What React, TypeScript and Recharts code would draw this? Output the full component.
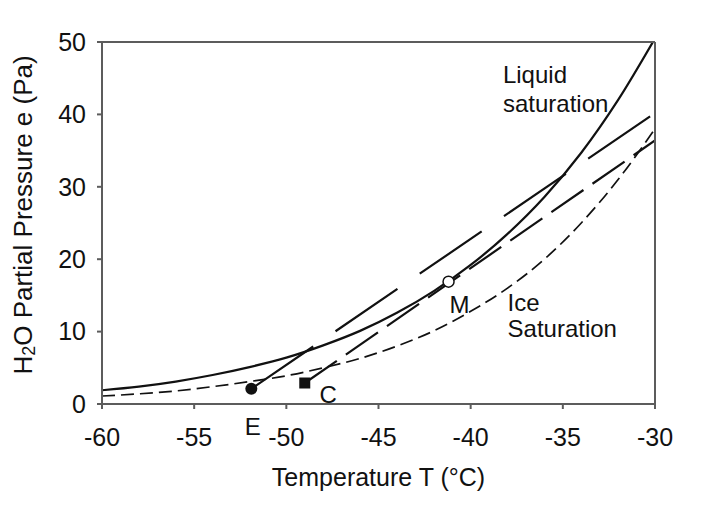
import React from 'react';
import {
  ComposedChart,
  Line,
  Scatter,
  XAxis,
  YAxis,
  ReferenceDot,
  Label,
} from 'recharts';

// temperature grid (°C) and saturation vapour pressures (Pa)
const temps = [-60, -58, -56, -54, -52, -50, -48, -46, -44, -42, -40, -38, -36, -34, -32, -30];
const liquidSat = [1.9, 2.4, 3.1, 4.0, 5.1, 6.4, 8.1, 10.1, 12.6, 15.6, 19.2, 23.5, 28.6, 34.7, 42.0, 50.5];
const iceSat = [1.1, 1.4, 1.8, 2.4, 3.1, 3.9, 5.0, 6.3, 8.0, 10.1, 12.8, 16.0, 20.0, 25.0, 31.0, 38.0];

// mixing lines, from the exhaust point to -30 °C
const mixingE = [
  { t: -51.9, e: 2.1 },
  { t: -30, e: 40.2 },
];
const mixingC = [
  { t: -49.0, e: 2.9 },
  { t: -30, e: 36.4 },
];

// marked states
const pointE = [{ t: -51.9, e: 2.1 }];
const pointC = [{ t: -49.0, e: 2.9 }];
const pointM = [{ t: -41.2, e: 16.9 }];

const xTicks = [-60, -55, -50, -45, -40, -35, -30];
const yTicks = [0, 10, 20, 30, 40, 50];

// text labels anchored in data space (left edge, baseline)
const annotations = [
  { text: 'Liquid', t: -38.25, e: 44.3 },
  { text: 'saturation', t: -38.25, e: 40.4 },
  { text: 'Ice', t: -38.0, e: 12.8 },
  { text: 'Saturation', t: -38.0, e: 9.2 },
  { text: 'M', t: -41.15, e: 12.6 },
  { text: 'C', t: -48.2, e: 0.1 },
  { text: 'E', t: -52.25, e: -4.3 },
];

const liquidData = temps.map((t, i) => ({ t, e: liquidSat[i] }));
const iceData = temps.map((t, i) => ({ t, e: iceSat[i] }));

const FONT = '"Liberation Sans", Arial, Helvetica, sans-serif';
const AXIS = '#5c5c5c';
const INK = '#111';

const tickStyle = { fontSize: 25, fill: INK, fontFamily: FONT };

function YTitle(props: any) {
  const vb = props.viewBox || { x: 34, y: 34, width: 60, height: 362 };
  const cx = 15;
  const cy = vb.y + vb.height / 2 - 8;
  return (
    <text
      x={cx}
      y={cy}
      transform={`rotate(-90, ${cx}, ${cy})`}
      textAnchor="middle"
      dominantBaseline="central"
      fontSize={26}
      fontFamily={FONT}
      fill={INK}
    >
      <tspan>H</tspan>
      <tspan fontSize={18} dy={6}>2</tspan>
      <tspan dy={-6}>O Partial Pressure e (Pa)</tspan>
    </text>
  );
}

const dotE = (p: any) => <circle cx={p.cx} cy={p.cy} r={6} fill={INK} />;
const dotC = (p: any) => <rect x={p.cx - 5.5} y={p.cy - 5.5} width={11} height={11} fill={INK} />;
const dotM = (p: any) => (
  <circle cx={p.cx} cy={p.cy} r={5.5} fill="#fff" stroke={INK} strokeWidth={1.5} />
);

export default function App() {
  return (
    <div style={{ width: 702, height: 493 }}>
      <ComposedChart
        width={702}
        height={493}
        margin={{ top: 33, right: 54, left: 34, bottom: 37 }}
      >
        <XAxis
          dataKey="t"
          type="number"
          domain={[-60, -30]}
          ticks={xTicks}
          allowDataOverflow
          height={60}
          stroke={AXIS}
          strokeWidth={2}
          tickSize={5}
          tickMargin={19}
          tick={tickStyle}
        >
          <Label
            value="Temperature T (°C)"
            position="bottom"
            offset={4}
            style={{ fontSize: 25, fill: INK, fontFamily: FONT }}
          />
        </XAxis>
        <XAxis
          xAxisId="top"
          dataKey="t"
          type="number"
          orientation="top"
          domain={[-60, -30]}
          ticks={xTicks}
          allowDataOverflow
          height={1}
          tick={false}
          tickSize={-5}
          stroke={AXIS}
          strokeWidth={2}
        />
        <YAxis
          type="number"
          domain={[0, 50]}
          ticks={yTicks}
          allowDataOverflow
          width={60}
          stroke={AXIS}
          strokeWidth={2}
          tickSize={5}
          tickMargin={11}
          tick={tickStyle}
        >
          <Label content={<YTitle />} />
        </YAxis>
        <YAxis
          yAxisId="right"
          orientation="right"
          type="number"
          domain={[0, 50]}
          ticks={yTicks}
          allowDataOverflow
          width={1}
          tick={false}
          tickSize={-5}
          stroke={AXIS}
          strokeWidth={2}
        />

        <Line
          data={liquidData}
          dataKey="e"
          type="monotone"
          stroke={INK}
          strokeWidth={2.2}
          dot={false}
          activeDot={false}
          isAnimationActive={false}
        />
        <Line
          data={iceData}
          dataKey="e"
          type="monotone"
          stroke={INK}
          strokeWidth={1.7}
          strokeDasharray="13 6"
          dot={false}
          activeDot={false}
          isAnimationActive={false}
        />
        <Line
          data={mixingE}
          dataKey="e"
          type="linear"
          stroke={INK}
          strokeWidth={2.2}
          strokeDasharray="75 27"
          dot={false}
          activeDot={false}
          isAnimationActive={false}
        />
        <Line
          data={mixingC}
          dataKey="e"
          type="linear"
          stroke={INK}
          strokeWidth={2.2}
          strokeDasharray="39 11"
          dot={false}
          activeDot={false}
          isAnimationActive={false}
        />

        <Scatter data={pointE} dataKey="e" shape={dotE} isAnimationActive={false} />
        <Scatter data={pointC} dataKey="e" shape={dotC} isAnimationActive={false} />
        <Scatter data={pointM} dataKey="e" shape={dotM} isAnimationActive={false} />

        {annotations.map((a) => (
          <ReferenceDot
            key={a.text}
            x={a.t}
            y={a.e}
            r={0}
            ifOverflow="visible"
            shape={(p: any) => (
              <text x={p.cx} y={p.cy} fontSize={24} fontFamily={FONT} fill={INK}>
                {a.text}
              </text>
            )}
          />
        ))}
      </ComposedChart>
    </div>
  );
}
